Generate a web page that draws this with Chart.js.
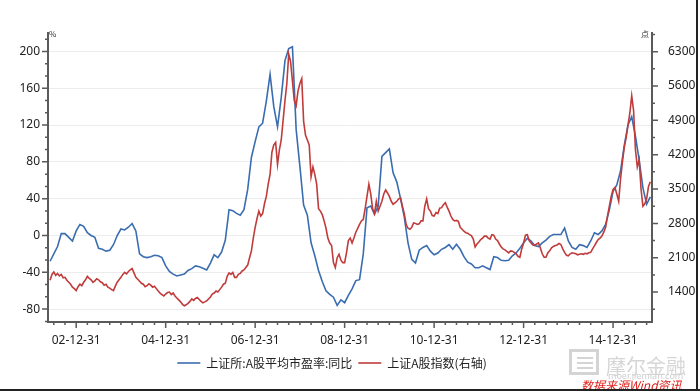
<!DOCTYPE html>
<html>
<head>
<meta charset="utf-8">
<script src="https://cdn.jsdelivr.net/npm/chart.js@4.4.0/dist/chart.umd.min.js"></script>
<style>
  body { margin: 0; background: #fff; }
  #wrap { width: 700px; height: 391px; position: relative; }
</style>
</head>
<body>
<div id="wrap"><canvas id="peChart" width="700" height="391"></canvas></div>
<script>
// monthly points from May 2002 to Oct 2015 (month end)
const startYear = 2002;
const startMonth = 5;

// 上证所:A股平均市盈率:同比 (%), one value per month
const peYoY = [
  -28, -20, -12, 2, 2, -2, -6, 5, 12, 10,
  3, 0, -2, -14, -15, -17, -16, -10, 0, 7,
  6, 9, 13, 5, -20, -23, -24, -23, -21.5, -22,
  -24, -33, -39, -42, -44, -43, -42, -38, -36, -33,
  -34, -35.5, -37.5, -30, -21, -24, -18, -5, 28, 27,
  24, 22, 28, 50, 85, 102, 118, 122, 146, 175,
  140, 118, 150, 190, 203, 205, 115, 75, 33, 22,
  -8, -22, -38, -50, -60, -64, -67, -76, -70, -73,
  -65, -58, -49, -48, -20, 30, 32, 23, 32, 86,
  90, 94, 68, 58, 40, 20, -8, -26, -30, -16,
  -13, -11, -17, -21, -19, -15, -13, -10, -15, -9.5,
  -15, -23, -29, -31, -35, -35, -33, -35, -37, -23,
  -24, -27, -27.5, -27, -22, -19, -14, -8, -3, -6,
  -11, -12, -8, -5, -1, 1, 1, 1, 8, -6,
  -13, -15, -10, -11, -13, -6, 3, 1, 5, 12,
  28, 48, 55, 70, 98, 120, 129, 108, 82, 52,
  34, 42
];

// 上证A股指数 (right axis), two values per month (mid and end)
const shAIndex = [
  1640, 1760, 1810, 1740, 1780, 1730, 1760, 1690, 1700, 1640,
  1600, 1560, 1500, 1470, 1430, 1510, 1560, 1530, 1600, 1650,
  1720, 1680, 1650, 1600, 1630, 1670, 1650, 1610, 1590, 1540,
  1560, 1500, 1480, 1450, 1430, 1520, 1600, 1650, 1700, 1760,
  1800, 1770, 1820, 1850, 1880, 1790, 1700, 1660, 1620, 1580,
  1560, 1510, 1530, 1570, 1540, 1500, 1520, 1470, 1420, 1380,
  1350, 1320, 1360, 1390, 1400, 1350, 1380, 1320, 1280, 1240,
  1200, 1150, 1120, 1140, 1170, 1210, 1260, 1230, 1270, 1290,
  1250, 1210, 1180, 1200, 1220, 1260, 1300, 1360, 1380, 1420,
  1400, 1450, 1500, 1560, 1580, 1720, 1790, 1760, 1800, 1700,
  1700, 1760, 1780, 1830, 1850, 1900, 1950, 2100, 2240, 2500,
  2720, 2900, 3050, 2950, 3000, 3200, 3350, 3600, 3800, 4250,
  4400, 4450, 4000, 4300, 4500, 4900, 5300, 5650, 6250, 6100,
  5700, 5300, 5200, 5500, 5650, 5750, 4880, 4600, 4500, 4400,
  3750, 3950, 3800, 3600, 3100, 3050, 2980, 2850, 2700, 2500,
  2400, 2350, 2000, 1900, 2100, 2170, 2050, 2000, 2000, 2200,
  2450, 2500, 2400, 2500, 2620, 2700, 2780, 2850, 2880, 3100,
  3350, 3600, 3400, 3100, 3000, 3250, 3050, 3150, 3250, 3400,
  3480, 3420, 3350, 3250, 3190, 3220, 3250, 3300, 3320, 3150,
  3000, 2780, 2700, 2680, 2720, 2810, 2800, 2780, 2790, 2850,
  2850, 3150, 3300, 3100, 3050, 2960, 2950, 3020, 3000, 3110,
  3120, 3180, 3220, 3130, 3050, 2950, 2880, 2850, 2860, 2840,
  2720, 2680, 2640, 2610, 2600, 2570, 2550, 2480, 2320, 2380,
  2420, 2470, 2500, 2540, 2540, 2500, 2480, 2570, 2560, 2480,
  2450, 2380, 2320, 2280, 2260, 2230, 2200, 2240, 2230, 2210,
  2180, 2130, 2110, 2280, 2400, 2560, 2570, 2450, 2400, 2360,
  2350, 2380, 2400, 2300, 2180, 2110, 2110, 2200, 2240, 2300,
  2330, 2350, 2360, 2390, 2370, 2280, 2210, 2150, 2140, 2180,
  2200, 2190, 2180, 2160, 2170, 2180, 2170, 2190, 2180, 2200,
  2210, 2280, 2340, 2410, 2470, 2500, 2540, 2620, 2720, 2950,
  3150, 3350, 3490, 3530, 3400, 3250, 3700, 4050, 4350, 4550,
  4800, 5050, 5400, 5100, 4300, 3950, 4100, 3500, 3150, 3200,
  3300, 3550, 3650
];

const xTickValues = [2003, 2005, 2007, 2009, 2011, 2013, 2015];
const xTickLabels = ['02-12-31', '04-12-31', '06-12-31', '08-12-31', '10-12-31', '12-12-31', '14-12-31'];
const leftTicks = [-80, -40, 0, 40, 80, 120, 160, 200];
const rightTicks = [1400, 2100, 2800, 3500, 4200, 4900, 5600, 6300];

function monthX(i) {
  return startYear + (startMonth + i) / 12;
}

const tickFont = { family: 'Noto Sans', size: 12 };
const axisColor = '#5a5a5a';

// minor ticks, unit marks, watermark and frame
const axisDecor = {
  id: 'axisDecor',
  afterLayout(chart) {
    chart.legend.right -= 36;
  },
  afterDraw(chart) {
    const { ctx, chartArea: a, scales } = chart;
    const yl = scales.y, yr = scales.y1, xs = scales.x;
    ctx.save();
    ctx.strokeStyle = axisColor;
    ctx.lineWidth = 1.5;
    ctx.beginPath();
    for (let k = -3; k <= 30; k++) {
      const v = leftTicks[0] + k * 40 / 3;
      if (v < yl.min || v > yl.max) continue;
      const y = yl.getPixelForValue(v);
      const len = k % 3 === 0 ? 6 : 3;
      ctx.moveTo(a.left - len, y); ctx.lineTo(a.left, y);
    }
    for (let k = -2; k <= 20; k++) {
      const v = rightTicks[0] + k * 350;
      if (v < yr.min || v > yr.max) continue;
      const y = yr.getPixelForValue(v);
      const len = k % 2 === 0 ? 6 : 3;
      ctx.moveTo(a.right, y); ctx.lineTo(a.right + len, y);
    }
    for (let k = -4; k <= 60; k++) {
      const v = xTickValues[0] + k * 0.25;
      if (v < xs.min || v > xs.max) continue;
      const x = xs.getPixelForValue(v);
      const len = k % 8 === 0 ? 6 : 3;
      ctx.moveTo(x, a.bottom); ctx.lineTo(x, a.bottom + len);
    }
    ctx.stroke();

    // unit marks
    ctx.fillStyle = '#333';
    ctx.font = '8px "Noto Sans CJK SC"';
    ctx.textAlign = 'left';
    ctx.fillText('%', a.left + 1, a.top + 1);
    ctx.textAlign = 'right';
    ctx.fillText('点', a.right - 3, a.top + 1);

    // watermark
    ctx.fillStyle = '#d4d4d4';
    ctx.fillRect(569, 349, 30, 26);
    ctx.fillStyle = '#fff';
    ctx.fillRect(572, 352, 24, 20);
    ctx.fillStyle = '#d4d4d4';
    ctx.fillRect(577, 357, 16, 2);
    ctx.fillRect(577, 362, 16, 2);
    ctx.fillRect(577, 367, 16, 2);
    ctx.textAlign = 'left';
    ctx.font = '20px "Noto Sans CJK SC"';
    ctx.fillStyle = '#d6d6d6';
    ctx.fillText('摩尔金融', 606, 366);
    ctx.font = '9px "Noto Sans"';
    ctx.fillStyle = '#cfcfcf';
    ctx.fillText('moer.jiemian.com', 608, 376);
    ctx.font = 'italic 12px "Noto Sans CJK SC"';
    ctx.fillStyle = '#e0201c';
    ctx.fillText('数据来源Wind资讯', 581, 385);

    // frame
    ctx.fillStyle = '#222';
    ctx.fillRect(0, 389, 700, 2);
    ctx.fillRect(696, 0, 2, 391);
    ctx.restore();
  }
};

const ctx = document.getElementById('peChart').getContext('2d');
new Chart(ctx, {
  type: 'line',
  data: {
    datasets: [
      {
        label: '上证所:A股平均市盈率:同比',
        data: peYoY.map((v, i) => ({ x: monthX(i), y: v })),
        borderColor: '#3a6db0',
        backgroundColor: '#3a6db0',
        borderWidth: 1.6,
        pointRadius: 0,
        yAxisID: 'y',
        order: 1
      },
      {
        label: '上证A股指数(右轴)',
        data: shAIndex.map((v, j) => ({ x: monthX(j / 2), y: v })),
        borderColor: '#c13b3b',
        backgroundColor: '#c13b3b',
        borderWidth: 1.6,
        pointRadius: 0,
        yAxisID: 'y1',
        order: 0
      }
    ]
  },
  options: {
    responsive: false,
    devicePixelRatio: 1,
    animation: false,
    layout: { padding: { top: 33, left: 0, right: 0, bottom: 12 } },
    plugins: {
      tooltip: { enabled: false },
      legend: {
        position: 'bottom',
        labels: {
          usePointStyle: true,
          pointStyle: 'line',
          pointStyleWidth: 23,
          padding: 6,
          color: '#222',
          font: { family: 'Noto Sans CJK SC', size: 12 },
          sort: (a, b) => a.datasetIndex - b.datasetIndex
        }
      }
    },
    scales: {
      x: {
        type: 'linear',
        min: 2002.37,
        max: 2015.87,
        afterBuildTicks: s => { s.ticks = xTickValues.map(v => ({ value: v })); },
        afterFit: s => { s.height = 29; },
        grid: { display: false },
        border: { display: true, color: axisColor, width: 2 },
        ticks: {
          autoSkip: false,
          maxRotation: 0,
          padding: 3,
          color: '#222',
          font: tickFont,
          callback: (v, i) => xTickLabels[i]
        }
      },
      y: {
        position: 'left',
        min: -94,
        max: 220,
        afterBuildTicks: s => { s.ticks = leftTicks.map(v => ({ value: v })); },
        afterFit: s => { s.width = 48; },
        grid: { color: '#ececec', lineWidth: 1, drawTicks: false },
        border: { display: true, color: axisColor, width: 2 },
        ticks: { padding: 8, color: '#222', font: tickFont, callback: v => String(v) }
      },
      y1: {
        position: 'right',
        min: 790,
        max: 6680,
        afterBuildTicks: s => { s.ticks = rightTicks.map(v => ({ value: v })); },
        afterFit: s => { s.width = 48; },
        grid: { display: false },
        border: { display: true, color: axisColor, width: 2 },
        ticks: { padding: 8, color: '#222', font: tickFont, callback: v => String(v) }
      }
    }
  },
  plugins: [axisDecor]
});
</script>
</body>
</html>
